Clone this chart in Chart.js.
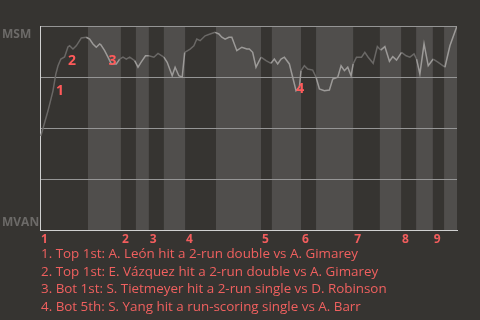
<!DOCTYPE html>
<html><head><meta charset="utf-8">
<script src="https://cdn.jsdelivr.net/npm/chart.js@4"></script>
<style>
html,body{margin:0;padding:0;background:#363431;width:480px;height:320px;overflow:hidden}
#wrap{position:absolute;left:0;top:0;width:480px;height:320px}
#notes{position:absolute;left:41px;top:245px;font-family:"Open Sans",sans-serif;font-size:13.4px;line-height:17.5px;color:#f0605f;white-space:nowrap}
#notes div{height:17.5px}
</style></head><body>
<div id="wrap"><canvas id="c" width="480" height="320"></canvas></div>
<div id="notes"></div>
<script>
// game progress (0-100) and MSM win probability (%)
const progress = [0.2,1.9,3.1,3.8,4.3,5.0,5.9,6.7,7.1,7.9,8.7,9.5,9.9,11.1,11.9,12.7,13.5,14.3,14.6,15.5,16.3,17.1,18.3,19.1,19.9,20.7,21.5,22.7,23.5,24.3,25.3,26.1,27.3,28.3,29.7,30.5,31.7,32.4,33.3,34.1,34.7,36.0,36.9,37.6,38.4,39.6,40.8,42.0,42.9,43.6,44.4,45.3,46.0,47.2,48.4,49.6,50.2,51.0,51.8,53.0,54.2,55.4,56.2,57.0,57.8,58.6,59.8,60.6,61.4,62.2,62.6,63.4,64.2,65.4,66.2,67.0,68.2,69.4,70.2,71.4,72.2,73.0,73.8,74.6,75.1,75.9,77.1,77.9,78.7,79.9,80.9,81.7,82.7,83.8,84.6,85.5,86.7,87.8,88.7,89.7,90.3,91.1,92.1,93.1,94.3,95.5,97.1,98.3,100];
const winProb = [46.1,58.3,68.1,76.5,80.4,83.8,84.8,89.7,90.3,88.7,90.3,92.8,94.1,94.5,93.6,91.2,89.6,91.2,90.8,87.9,84.7,81.4,81.4,83.8,84.7,83.8,84.7,83.0,79.8,82.4,85.4,85.4,84.7,86.6,84.7,82.2,75.6,79.8,75.6,74.9,87.1,88.7,90.3,93.6,92.8,95.2,96.1,96.9,96.1,94.5,93.6,94.5,94.5,87.9,89.6,88.7,88.7,87.1,79.8,84.7,83.0,81.7,83.8,81.4,83.8,84.7,81.4,74.9,68.3,70.0,78.1,80.5,78.9,78.4,74.9,69.1,68.3,68.6,74.0,74.9,80.5,78.1,79.8,75.6,81.4,84.7,84.7,87.1,84.7,81.7,89.9,88.2,89.9,82.7,85.0,83.3,87.1,85.4,84.7,86.3,83.8,76.5,91.2,80.5,83.8,82.2,79.8,90.3,100];
// half-inning boundaries (game progress)
const halfInnings = [0,11.5,19.4,23.0,26.1,29.7,34.8,42.2,53.0,55.6,62.6,66.2,75.1,81.5,86.6,90.2,94.2,96.9,100];
const inningLabels = ['1','2','3','4','5','6','7','8','9'];
const yTicks = [0,25,50,75,100];
const teamTop = 'MSM';
const teamBottom = 'MVAN';
const markerLabels = ['1','2','3','4'];
const markerX = [4.8,7.7,17.4,62.4];
const markerY = [68.1,82.8,82.8,69.1];
const notes = [
  '1. Top 1st: A. León hit a 2-run double vs A. Gimarey',
  '2. Top 1st: E. Vázquez hit a 2-run double vs A. Gimarey',
  '3. Bot 1st: S. Tietmeyer hit a 2-run single vs D. Robinson',
  '4. Bot 5th: S. Yang hit a run-scoring single vs A. Barr'
];

const notesEl = document.getElementById('notes');
notes.forEach(t => { const d = document.createElement('div'); d.textContent = t; notesEl.appendChild(d); });

function bandIndex(x){
  let i = 0;
  while (i < halfInnings.length - 2 && x >= halfInnings[i+1]) i++;
  return i;
}

const decor = {
  id: 'decor',
  beforeDraw(chart){
    const {ctx, chartArea: a, scales:{x}} = chart;
    ctx.save();
    ctx.fillStyle = '#504e4c';
    for (let i = 1; i < halfInnings.length - 1; i += 2) {
      const x0 = x.getPixelForValue(halfInnings[i]);
      const x1 = x.getPixelForValue(halfInnings[i+1]);
      ctx.fillRect(x0, a.top, x1 - x0, a.bottom - a.top);
    }
    ctx.restore();
  },
  afterDraw(chart){
    const {ctx, chartArea: a, scales:{x, y}} = chart;
    ctx.save();
    ctx.fillStyle = '#6c6a68';
    ctx.font = 'bold 12px "Open Sans"';
    ctx.textAlign = 'left';
    ctx.textBaseline = 'alphabetic';
    ctx.fillText(teamTop, 2, a.top + 12);
    ctx.fillText(teamBottom, 2, a.bottom - 4);
    ctx.fillStyle = '#f25d5d';
    ctx.font = 'bold 12px "Open Sans"';
    inningLabels.forEach((t, i) => {
      ctx.fillText(t, x.getPixelForValue(halfInnings[i*2]) + 1, a.bottom + 12.5);
    });
    ctx.fillStyle = '#ff5a5a';
    ctx.font = 'bold 14px "Open Sans"';
    ctx.textAlign = 'center';
    ctx.textBaseline = 'middle';
    markerLabels.forEach((t, i) => {
      ctx.fillText(t, x.getPixelForValue(markerX[i]), y.getPixelForValue(markerY[i]));
    });
    ctx.restore();
  }
};

new Chart(document.getElementById('c'), {
  type: 'line',
  data: {
    datasets: [{
      data: progress.map((v, i) => ({x: v, y: winProb[i]})),
      borderWidth: 1.5,
      pointRadius: 0,
      tension: 0,
      borderColor: '#8a8886',
      segment: {
        borderColor: c => (bandIndex((c.p0.parsed.x + c.p1.parsed.x) / 2) % 2) ? '#9c9a98' : '#6a6866'
      }
    }]
  },
  options: {
    responsive: false,
    animation: false,
    events: [],
    layout: {padding: {left: 40, right: 23, top: 26, bottom: 90}},
    plugins: {legend: {display: false}, tooltip: {enabled: false}},
    scales: {
      x: {
        type: 'linear', min: 0, max: 100,
        ticks: {display: false},
        grid: {display: false, drawTicks: false, tickLength: 0},
        border: {display: true, color: '#d0d0d0', width: 1}
      },
      y: {
        min: 0, max: 100,
        afterBuildTicks: s => { s.ticks = yTicks.map(v => ({value: v})); },
        ticks: {display: false},
        grid: {drawTicks: false, tickLength: 0, color: c => c.tick && c.tick.value === 0 ? 'rgba(0,0,0,0)' : '#959595', lineWidth: 1},
        border: {display: true, color: '#d0d0d0', width: 1}
      }
    }
  },
  plugins: [decor]
});
</script>
</body></html>
